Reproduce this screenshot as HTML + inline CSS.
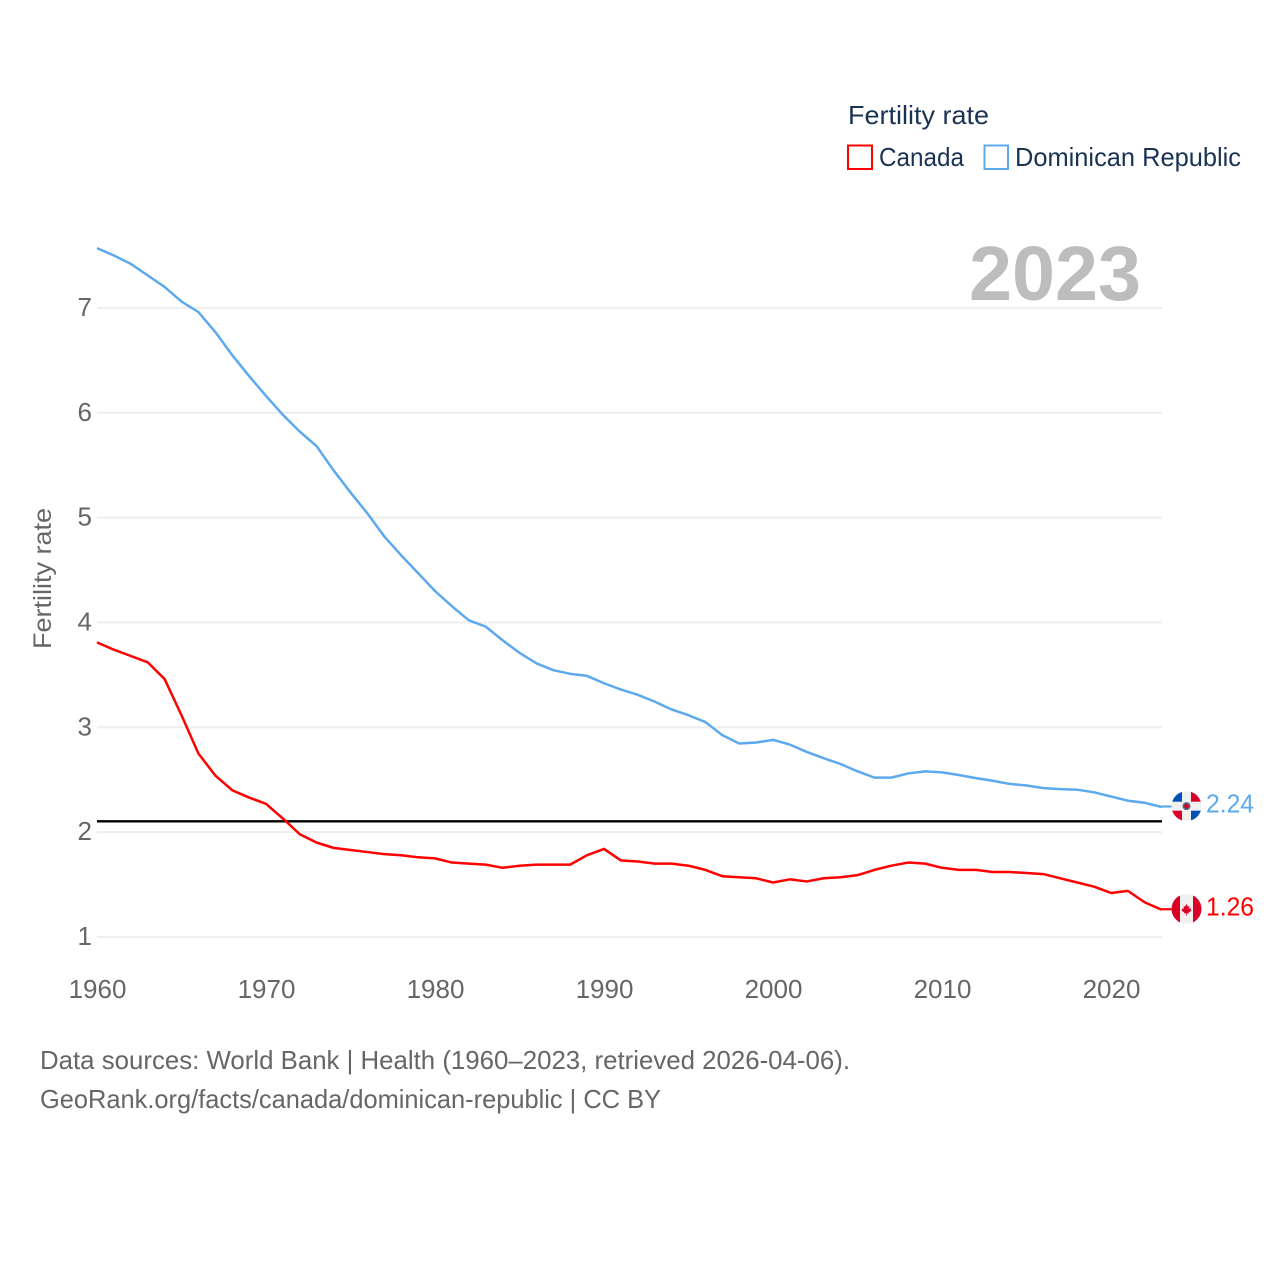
<!DOCTYPE html>
<html lang="en">
<head>
<meta charset="utf-8">
<title>Fertility rate: Canada and Dominican Republic</title>
<style>
html,body{margin:0;padding:0;background:#fff;width:1280px;height:1280px;overflow:hidden}
svg{display:block;font-family:"Liberation Sans",sans-serif}
</style>
</head>
<body>
<svg id="chart" xmlns="http://www.w3.org/2000/svg" width="1280" height="1280" viewBox="0 0 1280 1280">
  <rect x="0" y="0" width="1280" height="1280" fill="#fff"/>
  <g id="grid"></g>
  <g id="yticks"></g>
  <g id="xticks"></g>
  <text transform="translate(51,649) rotate(-90)" font-size="25" fill="#666" textLength="141" lengthAdjust="spacingAndGlyphs">Fertility rate</text>
  <text x="969" y="300" font-size="77" font-weight="700" fill="#bdbdbd" textLength="172" lengthAdjust="spacingAndGlyphs">2023</text>
  <g>
    <text x="848" y="124" font-size="26" fill="#1a3353" textLength="141" lengthAdjust="spacingAndGlyphs">Fertility rate</text>
    <g>
      <rect x="848" y="145.5" width="24" height="23.5" fill="#fff" stroke="#ff0000" stroke-width="2"/>
      <text x="879" y="166" font-size="26" fill="#1a3353" textLength="85" lengthAdjust="spacingAndGlyphs">Canada</text>
    </g>
    <g>
      <rect x="984.5" y="145.5" width="23.5" height="23.5" fill="#fff" stroke="#5da9ee" stroke-width="2"/>
      <text x="1015" y="166" font-size="26" fill="#1a3353" textLength="226" lengthAdjust="spacingAndGlyphs">Dominican Republic</text>
    </g>
  </g>
  <g id="marks"></g>
  <g>
    <text x="40" y="1069" font-size="26" fill="#666" textLength="810" lengthAdjust="spacingAndGlyphs">Data sources: World Bank | Health (1960–2023, retrieved 2026-04-06).</text>
    <text x="40" y="1108" font-size="26" fill="#666" textLength="621" lengthAdjust="spacingAndGlyphs">GeoRank.org/facts/canada/dominican-republic | CC BY</text>
  </g>
</svg>
<script>
const years = [1960,1961,1962,1963,1964,1965,1966,1967,1968,1969,1970,1971,1972,1973,1974,1975,1976,1977,1978,1979,1980,1981,1982,1983,1984,1985,1986,1987,1988,1989,1990,1991,1992,1993,1994,1995,1996,1997,1998,1999,2000,2001,2002,2003,2004,2005,2006,2007,2008,2009,2010,2011,2012,2013,2014,2015,2016,2017,2018,2019,2020,2021,2022,2023];
const canadaValues = [3.81,3.74,3.68,3.62,3.46,3.115,2.75,2.54,2.40,2.33,2.27,2.13,1.98,1.90,1.85,1.83,1.81,1.79,1.78,1.76,1.75,1.71,1.70,1.69,1.66,1.68,1.69,1.69,1.69,1.78,1.84,1.73,1.72,1.70,1.70,1.68,1.64,1.58,1.57,1.56,1.52,1.55,1.53,1.56,1.57,1.59,1.64,1.68,1.71,1.70,1.66,1.64,1.64,1.62,1.62,1.61,1.60,1.56,1.52,1.48,1.42,1.44,1.33,1.26];
const dominicanValues = [7.57,7.50,7.42,7.31,7.20,7.06,6.96,6.77,6.55,6.35,6.16,5.98,5.82,5.68,5.45,5.24,5.04,4.82,4.64,4.47,4.30,4.155,4.02,3.96,3.83,3.71,3.61,3.545,3.51,3.49,3.42,3.36,3.31,3.245,3.17,3.115,3.05,2.925,2.845,2.855,2.88,2.835,2.765,2.705,2.65,2.58,2.52,2.52,2.56,2.58,2.57,2.545,2.515,2.49,2.46,2.445,2.42,2.41,2.405,2.38,2.34,2.30,2.28,2.24];
const yTickValues = [1,2,3,4,5,6,7];
const xTickValues = [1960,1970,1980,1990,2000,2010,2020];
const replacementRate = [2.1];

const NS = 'http://www.w3.org/2000/svg';
const xScale = function (year) { return 97 + (year - 1960) * (1161.7 - 97) / 63; };
const yScale = function (value) { return 937 - (value - 1) * 104.85; };
const PLOT_LEFT = 97, PLOT_RIGHT = 1162, FLAG_X = 1186.5, FLAG_R = 15;

function make(tag, attrs, parent) {
  const el = document.createElementNS(NS, tag);
  for (const k in attrs) el.setAttribute(k, attrs[k]);
  parent.appendChild(el);
  return el;
}

const grid = document.getElementById('grid');
const yticks = document.getElementById('yticks');
const xticks = document.getElementById('xticks');
const marks = document.getElementById('marks');

yTickValues.forEach(function (v) {
  const line = make('line', {x1: PLOT_LEFT, x2: PLOT_RIGHT, y1: yScale(v), y2: yScale(v), stroke: '#eeeeee', 'stroke-width': 2}, grid);
  
  
  const label = make('text', {x: 92, y: yScale(v) + 8, 'text-anchor': 'end', 'font-size': 26, fill: '#666'}, yticks);
  
  
  label.textContent = String(v);
});

xTickValues.forEach(function (t) {
  const label = make('text', {x: xScale(t) + 0.5, y: 998, 'text-anchor': 'middle', 'font-size': 26, fill: '#666'}, xticks);
  
  
  label.textContent = String(t);
});

const refLine = make('line', {x1: PLOT_LEFT, x2: PLOT_RIGHT, y1: yScale(replacementRate[0]) - 0.4, y2: yScale(replacementRate[0]) - 0.4, stroke: '#000', 'stroke-width': 2.4}, marks);



function pathFor(values) {
  return values.map(function (v, i) {
    return (i ? 'L' : 'M') + xScale(years[i]).toFixed(2) + ' ' + yScale(v).toFixed(2);
  }).join(' ');
}

function drawSeries(values, color, slug) {
  const line = make('path', {d: pathFor(values), fill: 'none', stroke: color, 'stroke-width': 2.5, 'stroke-linejoin': 'round'}, marks);
  
  
  const last = values[values.length - 1];
  const ly = yScale(last);
  const connector = make('line', {x1: xScale(years[years.length - 1]), x2: FLAG_X - FLAG_R, y1: ly - 0.5, y2: ly - 0.5, stroke: color, 'stroke-width': 2.2}, marks);
  
  
  const label = make('text', {x: 1206, y: ly + 5.6, 'font-size': 26, fill: color, textLength: 48, lengthAdjust: 'spacingAndGlyphs'}, marks);
  
  
  label.textContent = last.toFixed(2);
  return ly - 0.8;
}

const canadaY = drawSeries(canadaValues, '#ff0000', 'canada');
const dominicanY = drawSeries(dominicanValues, '#5da9ee', 'dominican-republic');

const defs = make('defs', {}, marks);
const clipCa = make('clipPath', {id: 'clip-ca'}, defs);
make('circle', {cx: 0, cy: 0, r: FLAG_R}, clipCa);

/* Canada flag */
const flagCa = make('g', {transform: 'translate(' + FLAG_X + ',' + canadaY + ')', 'clip-path': 'url(#clip-ca)'}, marks);


make('rect', {x: -15, y: -15, width: 30, height: 30, fill: '#f0f0f0'}, flagCa);
make('rect', {x: -15, y: -15, width: 8.5, height: 30, fill: '#d80027'}, flagCa);
make('rect', {x: 6.5, y: -15, width: 8.5, height: 30, fill: '#d80027'}, flagCa);
make('polygon', {points: '0,-5 1.5,-2.3 3,-2.9 2.4,-0.1 4.6,-1.1 4.1,0.7 5.2,1.5 2.2,3.5 2.6,4.5 0.4,4.2 0.4,6.5 -0.4,6.5 -0.4,4.2 -2.6,4.5 -2.2,3.5 -5.2,1.5 -4.1,0.7 -4.6,-1.1 -2.4,-0.1 -3,-2.9 -1.5,-2.3', fill: '#d80027'}, flagCa);

/* Dominican Republic flag */
const flagDo = make('g', {transform: 'translate(' + FLAG_X + ',' + dominicanY + ')', 'clip-path': 'url(#clip-ca)'}, marks);


make('rect', {x: -15, y: -15, width: 30, height: 30, fill: '#f0f0f0'}, flagDo);
make('rect', {x: -15, y: -15, width: 10.5, height: 10.5, fill: '#0052b4'}, flagDo);
make('rect', {x: 4.5, y: -15, width: 10.5, height: 10.5, fill: '#d80027'}, flagDo);
make('rect', {x: -15, y: 4.5, width: 10.5, height: 10.5, fill: '#d80027'}, flagDo);
make('rect', {x: 4.5, y: 4.5, width: 10.5, height: 10.5, fill: '#0052b4'}, flagDo);
make('circle', {cx: 0, cy: 0, r: 4, fill: '#496e8c'}, flagDo);
make('circle', {cx: 0, cy: 0, r: 2.4, fill: '#d80027'}, flagDo);
</script>
</body>
</html>
